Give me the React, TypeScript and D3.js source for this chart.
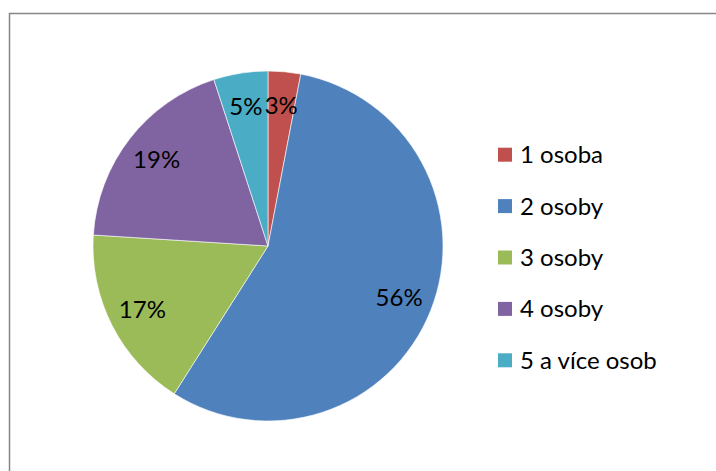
import React, { useEffect, useRef } from 'react';
import * as d3 from 'd3';

// household size categories and their shares (%)
const categories = ['1 osoba', '2 osoby', '3 osoby', '4 osoby', '5 a více osob'];
const shares = [3, 56, 17, 19, 5];
const colors = ['#C0504D', '#4F81BD', '#9BBB59', '#8064A2', '#4BACC6'];

const W = 716;
const H = 471;

const draw = (el: SVGSVGElement) => {
  const svg = d3.select(el);
  svg.selectAll('*').remove();

  // chart frame (right and bottom edges fall outside the crop)
  svg.append('rect')
    .attr('x', 9.5)
    .attr('y', 13.5)
    .attr('width', 800)
    .attr('height', 600)
    .attr('fill', '#fff')
    .attr('stroke', '#868686')
    .attr('stroke-width', 1.5);

  const cx = 268, cy = 246, radius = 175;
  const g = svg.append('g').attr('transform', 'translate(' + cx + ',' + cy + ')');

  const data = categories.map((c, i) => ({ name: c, value: shares[i], color: colors[i] }));

  const pie = d3.pie<any>().value((d: any) => d.value).sort(null);
  const arc = d3.arc<any>().innerRadius(0).outerRadius(radius);
  const labelArc = d3.arc<any>().innerRadius(141).outerRadius(141);

  const arcs = pie(data);

  g.selectAll('path')
    .data(arcs)
    .enter().append('path')
    .attr('d', arc)
    .attr('fill', (d: any) => d.data.color)
    .attr('stroke', '#fff')
    .attr('stroke-width', 0.6);

  g.selectAll('text')
    .data(arcs)
    .enter().append('text')
    .attr('transform', (d: any) => 'translate(' + labelArc.centroid(d) + ')')
    .attr('text-anchor', 'middle')
    .attr('dy', '0.35em')
    .style('font-family', 'Lato, "Open Sans", sans-serif')
    .style('font-size', '24px')
    .style('fill', '#000')
    .text((d: any) => d.data.value + '%');

  // legend
  const y = d3.scaleBand().domain(categories).range([129, 386]);
  const legend = svg.selectAll('.legend')
    .data(data)
    .enter().append('g')
    .attr('class', 'legend')
    .attr('transform', (d: any) => 'translate(498,' + (y(d.name)! + y.bandwidth() / 2) + ')');

  legend.append('rect')
    .attr('x', 0)
    .attr('y', -7)
    .attr('width', 14)
    .attr('height', 14)
    .attr('fill', (d: any) => d.color);

  legend.append('text')
    .attr('x', 22)
    .attr('y', 0)
    .attr('dy', '0.35em')
    .style('font-family', 'Lato, "Open Sans", sans-serif')
    .style('font-size', '24px')
    .style('fill', '#000')
    .text((d: any) => d.name);
};

const App = () => {
  const ref = useRef<SVGSVGElement>(null);
  useEffect(() => {
    if (ref.current) draw(ref.current);
  }, []);
  return (
    <svg
      ref={ref}
      width={W}
      height={H}
      style={{ position: 'absolute', left: 0, top: 0, background: '#fff' }}
    />
  );
};

export default App;
